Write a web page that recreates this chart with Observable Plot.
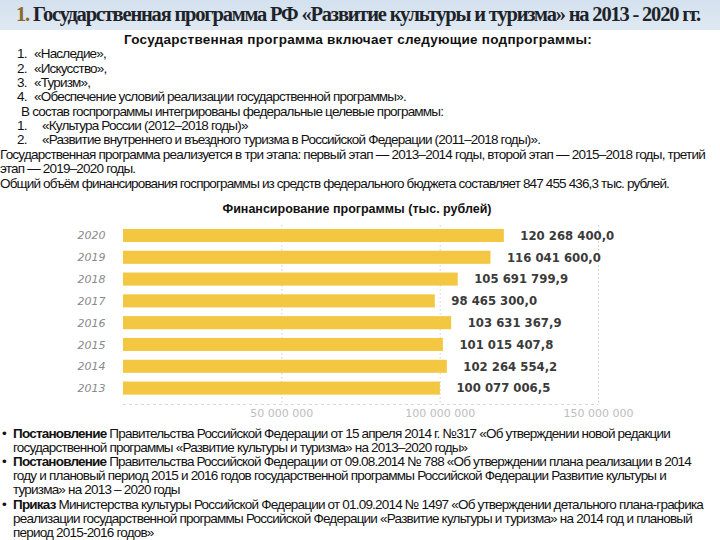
<!DOCTYPE html>
<html>
<head>
<meta charset="utf-8">
<script src="https://cdn.jsdelivr.net/npm/d3@7"></script>
<script src="https://cdn.jsdelivr.net/npm/@observablehq/plot@0.6"></script>
<style>
  html, body { margin: 0; padding: 0; background: #fff; }
  #slide { position: relative; width: 720px; height: 540px; overflow: hidden; background: #fff; }
  .band { position: absolute; left: 0; top: 0; width: 720px; height: 30px;
          background: linear-gradient(#d3e1ee, #dfe9f3); }
  .title { position: absolute; left: 16px; top: 1px; white-space: nowrap;
           font-family: "Liberation Serif", "Times New Roman", serif; font-weight: bold;
           font-size: 20.5px; line-height: 26px; color: #1e2329; }
  .title .num { color: #8c6a2a; }
  .ln { position: absolute; white-space: nowrap; height: 14px; line-height: 14px;
        font-family: "Liberation Sans Narrow", "Liberation Sans", Arial, sans-serif;
        font-size: 13.5px; color: #111; }
  .b { font-weight: bold; }
  .n1 { display: inline-block; width: 17px; }
  .n2 { display: inline-block; width: 25px; }
  .sub { font-family: "Liberation Sans", Arial, sans-serif; font-weight: bold; font-size: 13.5px; }
  .ctitle { position: absolute; top: 201px; left: 0; width: 714px; text-align: center;
            font-family: "Liberation Sans", Arial, sans-serif; font-weight: bold; font-size: 12.5px;
            line-height: 16px; color: #111; }
  #chart { position: absolute; left: 0; top: 220px; }
</style>
</head>
<body>
<div id="slide">
  <div class="band"></div>
  <div class="title fit" data-r="700"><span class="num">1.</span> Государственная программа РФ «Развитие культуры и туризма» на 2013 - 2020 гг.</div>

  <div class="ln sub fit" data-r="592" style="left:124px; top:33px;">Государственная программа включает следующие подпрограммы:</div>
  <div class="ln body" style="left:17px; top:47px;"><span class="n1">1.</span>«Наследие»,</div>
  <div class="ln body" style="left:17px; top:62px;"><span class="n1">2.</span>«Искусство»,</div>
  <div class="ln body" style="left:17px; top:76px;"><span class="n1">3.</span>«Туризм»,</div>
  <div class="ln body" style="left:17px; top:90px;"><span class="n1">4.</span>«Обеспечение условий реализации государственной программы».</div>
  <div class="ln body" style="left:21px; top:105px;">В состав госпрограммы интегрированы федеральные целевые программы:</div>
  <div class="ln body" style="left:17px; top:119px;"><span class="n2">1.</span>«Культура России (2012–2018 годы)»</div>
  <div class="ln body" style="left:17px; top:133px;"><span class="n2">2.</span>«Развитие внутреннего и въездного туризма в Российской Федерации (2011–2018 годы)».</div>
  <div class="ln body fit" data-r="705" style="left:0px; top:148px;">Государственная программа реализуется в три этапа: первый этап — 2013–2014 годы, второй этап — 2015–2018 годы, третий</div>
  <div class="ln body" style="left:0px; top:162px;">этап — 2019–2020 годы.</div>
  <div class="ln body fit" data-r="669" style="left:0px; top:177px;">Общий объём финансирования госпрограммы из средств федерального бюджета составляет 847 455 436,3 тыс. рублей.</div>

  <div class="ctitle">Финансирование программы (тыс. рублей)</div>
  <div id="chart"></div>

  <div class="ln" style="left:2px; top:427px;">•</div>
  <div class="ln body fit" data-r="670" style="left:13px; top:427px;"><span class="b">Постановление</span> Правительства Российской Федерации от 15 апреля 2014 г. №317 «Об утверждении новой редакции</div>
  <div class="ln body" style="left:13px; top:441px;">государственной программы «Развитие культуры и туризма» на 2013–2020 годы»</div>
  <div class="ln" style="left:2px; top:455px;">•</div>
  <div class="ln body fit" data-r="691" style="left:13px; top:455px;"><span class="b">Постановление</span> Правительства Российской Федерации от 09.08.2014 № 788 «Об утверждении плана реализации в 2014</div>
  <div class="ln body fit" data-r="666" style="left:13px; top:469px;">году и плановый период 2015 и 2016 годов государственной программы Российской Федерации Развитие культуры и</div>
  <div class="ln body" style="left:13px; top:483px;">туризма» на 2013 – 2020 годы</div>
  <div class="ln" style="left:2px; top:498px;">•</div>
  <div class="ln body fit" data-r="703" style="left:13px; top:498px;"><span class="b">Приказ</span> Министерства культуры Российской Федерации от 01.09.2014 № 1497 «Об утверждении детального плана-графика</div>
  <div class="ln body fit" data-r="692" style="left:13px; top:512px;">реализации государственной программы Российской Федерации «Развитие культуры и туризма» на 2014 год и плановый</div>
  <div class="ln body" style="left:13px; top:526px;">период 2015-2016 годов»</div>
</div>

<script>
// ---- data ----
const years = [2020, 2019, 2018, 2017, 2016, 2015, 2014, 2013];
const funding = [120268400.0, 116041600.0, 105691799.9, 98465300.0, 103631367.9, 101015407.8, 102264554.2, 100077006.5];
const xTicks = [50000000, 100000000, 150000000];

const data = years.map((year, i) => ({year, value: funding[i]}));

const ru = d3.formatLocale({decimal: ",", thousands: " ", grouping: [3], currency: ["", ""]});
const fmt1 = ru.format(",.1f");
const fmt0 = ru.format(",.0f");

// vertical (year) scale: a little room above the top year and below the last one
const yDomain = [d3.min(years) - 0.73, d3.max(years) + 0.48];
const barHalf = 0.3;

const chart = Plot.plot({
  width: 720,
  height: 210,
  marginLeft: 123,
  marginRight: 122,
  marginTop: 5,
  marginBottom: 26,
  style: {background: "transparent", fontFamily: "DejaVu Sans, Verdana, sans-serif"},
  x: {domain: [0, 150000000], axis: null},
  y: {domain: yDomain, axis: null},
  marks: [
    Plot.gridX(xTicks, {stroke: "#cfcfcf", strokeOpacity: 1, strokeDasharray: "1.5,2.5"}),
    Plot.ruleY([yDomain[0]], {x1: 0, x2: 150000000, stroke: "#d6d6d6", strokeDasharray: "3,3"}),
    Plot.rect(data, {x1: 0, x2: "value", y1: d => d.year - barHalf, y2: d => d.year + barHalf, fill: "#f3c742"}),
    Plot.text(data, {x: 0, y: "year", text: d => String(d.year), dx: -18, textAnchor: "end",
                     fontStyle: "italic", fill: "#8a8a8a", fontSize: 11}),
    Plot.text(data, {x: "value", y: "year", text: d => fmt1(d.value), dx: 16, textAnchor: "start",
                     fontWeight: "bold", fill: "#3b3b3b", fontSize: 11.7}),
    Plot.text(xTicks, {x: d => d, frameAnchor: "bottom", dy: 12, text: d => fmt0(d),
                       fill: "#bdbdbd", fontSize: 11})
  ]
});
document.getElementById("chart").appendChild(chart);

// fit text lines to the widths measured on the reference
function fitAll() {
  const spacings = [];
  document.querySelectorAll(".fit").forEach(el => {
    el.style.letterSpacing = "0px";
    const r = el.getBoundingClientRect().right;
    const target = +el.dataset.r;
    const n = el.textContent.length;
    const ls = (target - r) / n;
    el.style.letterSpacing = ls + "px";
    if (el.classList.contains("body")) spacings.push(ls);
  });
  const med = d3.median(spacings) || 0;
  document.querySelectorAll(".body:not(.fit)").forEach(el => { el.style.letterSpacing = med + "px"; });
}
if (document.fonts && document.fonts.ready) document.fonts.ready.then(fitAll); else fitAll();
fitAll();
</script>
</body>
</html>
